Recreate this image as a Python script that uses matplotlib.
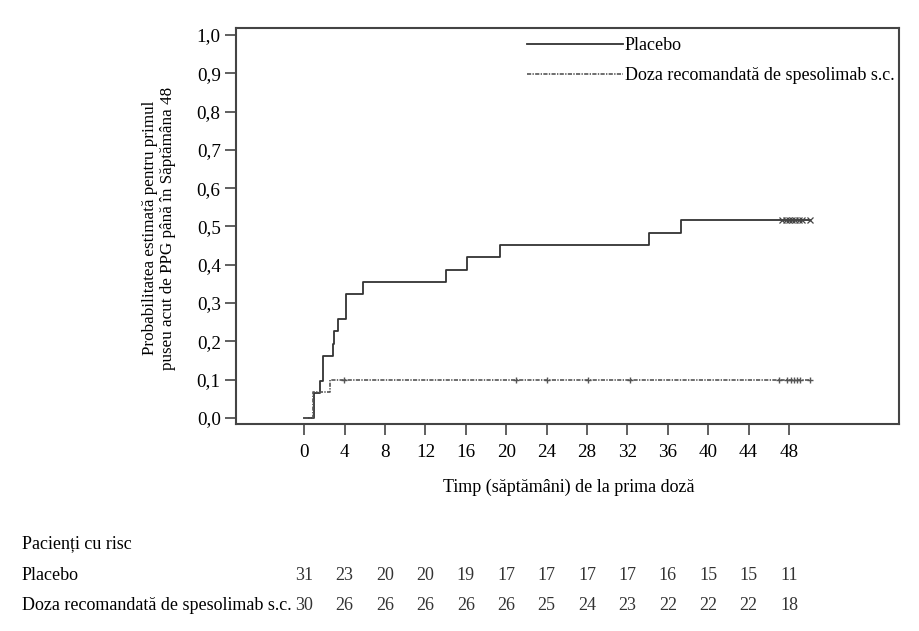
import matplotlib
matplotlib.use('Agg')
import matplotlib.pyplot as plt
import matplotlib.transforms as mtransforms
from matplotlib.ticker import FuncFormatter

plt.rcParams['font.family'] = ['Liberation Serif', 'DejaVu Serif']

# Kaplan-Meier style step data (weeks, cumulative probability)
placebo_t = [0, 1.0, 1.6, 1.9, 2.8, 2.9, 3.3, 4.1, 5.8, 14.0, 16.1, 19.4, 34.1, 37.3, 50.1]
placebo_p = [0, 0.065, 0.097, 0.161, 0.194, 0.226, 0.258, 0.323, 0.355, 0.387, 0.419, 0.452,
             0.484, 0.516, 0.516]
speso_t = [0, 0.9, 2.5, 50.1]
speso_p = [0, 0.067, 0.100, 0.100]

# censored observations
placebo_cens = [47.3, 47.7, 48.0, 48.3, 48.6, 49.0, 49.3, 50.1]
speso_cens = [3.9, 21.0, 24.0, 28.1, 32.3, 47.0, 47.8, 48.2, 48.5, 48.8, 49.1, 50.1]

# patients at risk
risk_weeks = [0, 4, 8, 12, 16, 20, 24, 28, 32, 36, 40, 44, 48]
risk_placebo = [31, 23, 20, 20, 19, 17, 17, 17, 17, 16, 15, 15, 11]
risk_speso = [30, 26, 26, 26, 26, 26, 25, 24, 23, 22, 22, 22, 18]

lbl_placebo = 'Placebo'
lbl_speso = 'Doza recomandată de spesolimab s.c.'

fs = 13

fig = plt.figure(figsize=(9.2, 6.31), dpi=100)
ax = fig.add_axes([236/920, 1-423.5/631, (899-236)/920, (423.5-28)/631])

ax.step(placebo_t, placebo_p, where='post', color='#333333', lw=1.3, label=lbl_placebo)
ax.step(speso_t, speso_p, where='post', color='#555555', lw=1.2,
        linestyle=(0, (2.5, 0.8, 0.8, 0.8)), label=lbl_speso)
ax.plot(placebo_cens, [placebo_p[-1]] * len(placebo_cens), 'x', color='#444444',
        ms=4, mew=0.9)
ax.plot(speso_cens, [speso_p[-1]] * len(speso_cens), '+', color='#555555',
        ms=5, mew=1.0)

ax.set_xlim(-6.76, 58.9)
ax.set_ylim(-0.0144, 1.018)
ax.set_xticks(risk_weeks)
ax.set_yticks([i / 10 for i in range(11)])
ax.yaxis.set_major_formatter(FuncFormatter(lambda v, p: f'{v:.1f}'.replace('.', ',')))
ax.tick_params(direction='out', length=8, width=1.2, color='#444444', labelsize=13.8,
               pad=3)
ax.tick_params(axis='x', pad=7)
for s in ax.spines.values():
    s.set_color('#444444')
    s.set_linewidth(1.5)

leg = ax.legend(loc='upper left', bbox_to_anchor=(527/920, 1-37/631),
                bbox_transform=fig.transFigure, frameon=False, fontsize=fs,
                handlelength=5.3, handletextpad=0.12, labelspacing=0.74, borderpad=0,
                borderaxespad=0)

fig.text(159/920, 1-228/631,
         'Probabilitatea estimată pentru primul\npuseu acut de PPG până în Săptămâna 48',
         rotation=90, ha='center', va='center', multialignment='center', fontsize=12.3)
fig.text(569/920, 1-487/631, 'Timp (săptămâni) de la prima doză',
         ha='center', va='center', fontsize=fs)

# risk table
fig.text(22/920, 1-544/631, 'Pacienți cu risc', ha='left', va='center', fontsize=fs)
fig.text(22/920, 1-575/631, lbl_placebo, ha='left', va='center', fontsize=fs)
fig.text(22/920, 1-605/631, lbl_speso, ha='left', va='center', fontsize=fs)
trans = mtransforms.blended_transform_factory(ax.transData, fig.transFigure)
for w, a, b in zip(risk_weeks, risk_placebo, risk_speso):
    ax.text(w, 1-575/631, str(a), transform=trans, ha='center', va='center',
            fontsize=fs, color='#333333', clip_on=False)
    ax.text(w, 1-605/631, str(b), transform=trans, ha='center', va='center',
            fontsize=fs, color='#333333', clip_on=False)

fig.savefig('out.png', dpi=100)
